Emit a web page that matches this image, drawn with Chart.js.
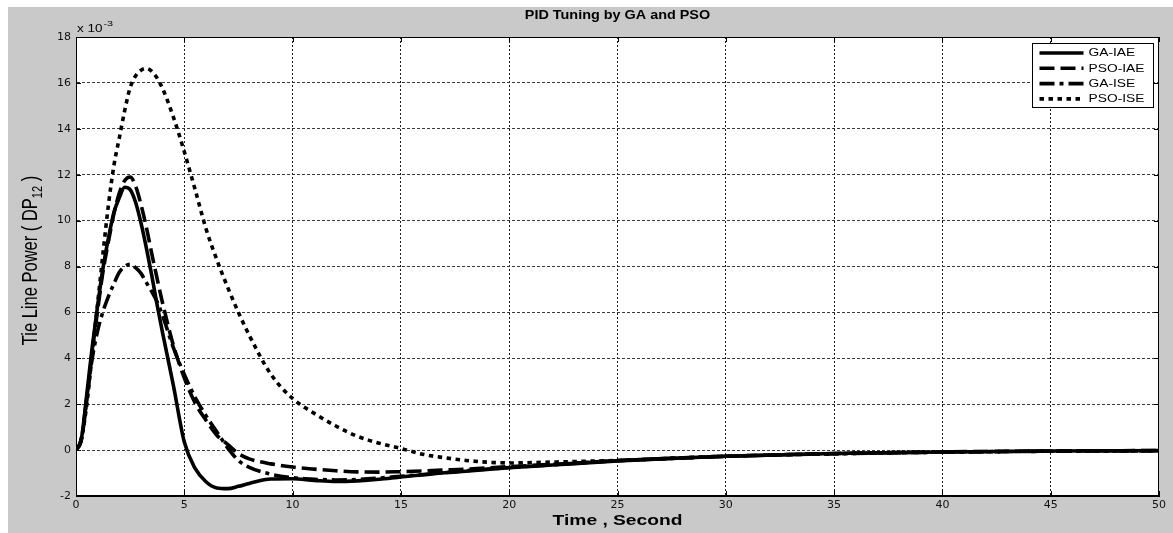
<!DOCTYPE html>
<html>
<head>
<meta charset="utf-8">
<script src="https://cdn.jsdelivr.net/npm/chart.js@4.4.1/dist/chart.umd.min.js"></script>
<style>
  html, body { margin: 0; padding: 0; background: #ffffff; }
  #wrap { position: absolute; left: 0; top: 0; width: 1173px; height: 533px; }
</style>
</head>
<body>
<div id="wrap"><canvas id="c" width="1173" height="533"></canvas></div>
<script>
// Simulation time (s)
const time = [0, 0.25, 0.5, 0.75, 1, 1.25, 1.5, 1.75, 2, 2.25, 2.5, 2.75, 3, 3.25, 3.5, 3.75, 4,
  4.5, 5, 5.5, 6, 6.5, 7, 7.5, 8,
  9, 10, 11, 12, 13, 14, 15, 16, 17, 18,
  20, 22, 25, 28, 30, 35, 40, 45, 50];

// Tie-line power deviation, in units of 1e-3
const gaIAE = [0, 0.5, 2.45, 4.5, 6.3, 7.95, 9.25, 10.35, 11.0, 11.45, 11.35, 10.8, 9.9, 8.8, 7.6, 6.3, 5.1,
  2.8, 0.35, -0.8, -1.38, -1.65, -1.68, -1.58, -1.45,
  -1.26, -1.25, -1.32, -1.37, -1.34, -1.27, -1.17, -1.08, -0.99, -0.92,
  -0.77, -0.65, -0.47, -0.34, -0.27, -0.15, -0.08, -0.04, -0.02];
const psoIAE = [0, 0.45, 2.2, 4.3, 6.1, 7.8, 9.1, 10.3, 11.2, 11.75, 11.9, 11.5, 10.7, 9.7, 8.55, 7.45, 6.4,
  4.55, 3.15, 2.05, 1.3, 0.65, 0.25, -0.15, -0.38,
  -0.6, -0.74, -0.83, -0.9, -0.95, -0.96, -0.94, -0.91, -0.87, -0.83,
  -0.72, -0.62, -0.46, -0.34, -0.27, -0.15, -0.08, -0.04, -0.02];
const gaISE = [0, 0.5, 2.3, 4.0, 5.2, 6.05, 6.7, 7.25, 7.75, 8.0, 8.1, 7.95, 7.7, 7.3, 6.9, 6.45, 5.85,
  4.45, 3.3, 2.3, 1.5, 0.8, 0.1, -0.45, -0.75,
  -1.05, -1.2, -1.27, -1.3, -1.28, -1.22, -1.14, -1.06, -0.98, -0.9,
  -0.76, -0.64, -0.46, -0.34, -0.27, -0.16, -0.09, -0.05, -0.03];
const psoISE = [0, 0.5, 2.0, 4.2, 6.4, 8.6, 10.7, 12.4, 13.6, 14.8, 15.8, 16.3, 16.55, 16.63, 16.5, 16.2, 15.75,
  14.5, 13.0, 11.35, 9.65, 8.3, 7.1, 6.0, 5.0,
  3.3, 2.25, 1.6, 1.05, 0.6, 0.3, 0.07, -0.18, -0.33, -0.45,
  -0.56, -0.52, -0.45, -0.34, -0.27, -0.16, -0.09, -0.05, -0.03];

const seriesNames = ['GA-IAE', 'PSO-IAE', 'GA-ISE', 'PSO-ISE'];
const xTicks = [0, 5, 10, 15, 20, 25, 30, 35, 40, 45, 50];
const yTicks = [-2, 0, 2, 4, 6, 8, 10, 12, 14, 16, 18];

const chartTitle = 'PID Tuning by GA and PSO';
const xTitle = 'Time , Second';
const yTitleMain = 'Tie Line Power ( DP';
const yTitleSub = '12';
const yTitleEnd = ' )';
const exponentBase = 'x 10';
const exponentPower = '-3';

const TEXT_FONT = '"Liberation Sans", Arial, Helvetica, sans-serif';
const TICK_FONT = '"DejaVu Sans", sans-serif';

const toPoints = ys => time.map((t, i) => ({ x: t, y: ys[i] }));

const lineStyles = [
  { dash: [] },
  { dash: [15, 6] },
  { dash: [15, 5, 4, 5] },
  { dash: [4.5, 4.5] }
];
const seriesValues = [gaIAE, psoIAE, gaISE, psoISE];

const datasets = seriesNames.map((name, i) => ({
  label: name,
  data: toPoints(seriesValues[i]),
  borderColor: '#000000',
  borderWidth: 3.6,
  borderDash: lineStyles[i].dash,
  borderCapStyle: 'butt',
  borderJoinStyle: 'round',
  pointRadius: 0,
  fill: false,
  cubicInterpolationMode: 'monotone'
}));

// Horizontally widened text (the figure's lettering is wide)
function wideText(ctx, str, x, y, font, sx, align) {
  ctx.save();
  ctx.font = font;
  ctx.textBaseline = 'middle';
  ctx.textAlign = 'left';
  const w = ctx.measureText(str).width * sx;
  let left = x;
  if (align === 'center') left = x - w / 2;
  else if (align === 'right') left = x - w;
  ctx.translate(left, y);
  ctx.scale(sx, 1);
  ctx.fillText(str, 0, 0);
  ctx.restore();
  return w;
}

const figurePlugin = {
  id: 'figure',
  beforeDraw(chart) {
    const { ctx, chartArea: a } = chart;
    ctx.save();
    ctx.fillStyle = '#ffffff';
    ctx.fillRect(0, 0, chart.width, chart.height);
    ctx.fillStyle = '#c9c9c9';
    ctx.fillRect(8, 7, chart.width - 8, chart.height - 7);
    ctx.fillStyle = '#ffffff';
    ctx.fillRect(a.left, a.top, a.right - a.left, a.bottom - a.top);
    ctx.restore();
  },
  afterDatasetsDraw(chart) {
    const { ctx, chartArea: a, scales } = chart;
    ctx.save();
    // axes box
    ctx.strokeStyle = '#000000';
    ctx.lineWidth = 1;
    ctx.strokeRect(Math.round(a.left) + 0.5, Math.round(a.top) + 0.5,
      Math.round(a.right - a.left) - 1, Math.round(a.bottom - a.top) - 1);
    // inward tick marks on all four sides
    ctx.beginPath();
    xTicks.forEach(v => {
      const px = Math.round(scales.x.getPixelForValue(v)) + 0.5;
      ctx.moveTo(px, a.bottom); ctx.lineTo(px, a.bottom - 5);
      ctx.moveTo(px, a.top); ctx.lineTo(px, a.top + 5);
    });
    yTicks.forEach(v => {
      const py = Math.round(scales.y.getPixelForValue(v)) + 0.5;
      ctx.moveTo(a.left, py); ctx.lineTo(a.left + 5, py);
      ctx.moveTo(a.right, py); ctx.lineTo(a.right - 5, py);
    });
    ctx.stroke();

    // legend
    const bw = 121, bh = 64;
    const bx = Math.round(a.right - 6 - bw) + 0.5;
    const by = Math.round(a.top + 6) + 0.5;
    ctx.fillStyle = '#ffffff';
    ctx.fillRect(bx, by, bw, bh);
    ctx.strokeStyle = '#000000';
    ctx.lineWidth = 1;
    ctx.strokeRect(bx, by, bw, bh);
    chart.data.datasets.forEach((ds, i) => {
      const ry = by + 9.5 + i * 15.3;
      ctx.save();
      ctx.strokeStyle = ds.borderColor;
      ctx.lineWidth = ds.borderWidth;
      ctx.lineCap = 'butt';
      ctx.setLineDash(ds.borderDash || []);
      ctx.beginPath();
      ctx.moveTo(bx + 7, ry);
      ctx.lineTo(bx + 51, ry);
      ctx.stroke();
      ctx.restore();
      ctx.fillStyle = '#000000';
      wideText(ctx, ds.label, bx + 56, ry + 0.5, '10px ' + TEXT_FONT, 1.38, 'left');
    });
    ctx.restore();
  },
  afterDraw(chart) {
    const { ctx, chartArea: a } = chart;
    ctx.save();
    ctx.fillStyle = '#000000';
    const cx = (a.left + a.right) / 2;
    // title
    wideText(ctx, chartTitle, cx, 16, 'bold 12px ' + TEXT_FONT, 1.2, 'center');
    // x-axis title
    wideText(ctx, xTitle, cx, 521, 'bold 15px ' + TEXT_FONT, 1.28, 'center');
    // exponent label
    const w1 = wideText(ctx, exponentBase, a.left + 1, a.top - 8, '10px ' + TEXT_FONT, 1.35, 'left');
    wideText(ctx, exponentPower, a.left + 1 + w1 + 1, a.top - 13, '8px ' + TEXT_FONT, 1.35, 'left');
    // y-axis title with subscript, rotated
    const yc = (a.top + a.bottom) / 2 - 6;
    ctx.translate(31, yc);
    ctx.scale(1.3, 1);
    ctx.rotate(-Math.PI / 2);
    ctx.textBaseline = 'middle';
    ctx.textAlign = 'left';
    const mainFont = '16.5px ' + TEXT_FONT;
    const subFont = '11px ' + TEXT_FONT;
    ctx.font = mainFont;
    const wm = ctx.measureText(yTitleMain).width;
    const we = ctx.measureText(yTitleEnd).width;
    ctx.font = subFont;
    const ws = ctx.measureText(yTitleSub).width;
    let x0 = -(wm + ws + we) / 2;
    ctx.font = mainFont;
    ctx.fillText(yTitleMain, x0, 0);
    ctx.font = subFont;
    ctx.fillText(yTitleSub, x0 + wm, 5.5);
    ctx.font = mainFont;
    ctx.fillText(yTitleEnd, x0 + wm + ws, 0);
    ctx.restore();
  }
};

const edgeAware = (edges, color) => ctx =>
  (ctx.tick && edges.includes(ctx.tick.value)) ? 'rgba(0,0,0,0)' : color;

new Chart(document.getElementById('c'), {
  type: 'line',
  data: { datasets },
  plugins: [figurePlugin],
  options: {
    responsive: false,
    animation: false,
    events: [],
    layout: { padding: { left: 0, top: 37, right: 14, bottom: 0 } },
    plugins: {
      legend: { display: false },
      title: { display: false },
      tooltip: { enabled: false }
    },
    scales: {
      x: {
        type: 'linear',
        min: 0,
        max: 50,
        afterBuildTicks: s => { s.ticks = xTicks.map(v => ({ value: v })); },
        afterFit: s => { s.height = 37; },
        ticks: {
          autoSkip: false,
          maxRotation: 0,
          padding: 3,
          color: '#111111',
          font: { family: TICK_FONT, size: 11 },
          callback: v => String(v)
        },
        grid: {
          drawTicks: false,
          color: edgeAware([0, 50], '#1a1a1a'),
          lineWidth: 1
        },
        border: { display: true, color: '#000000', width: 1, dash: [2, 2] }
      },
      y: {
        type: 'linear',
        min: -2,
        max: 18,
        afterBuildTicks: s => { s.ticks = yTicks.map(v => ({ value: v })); },
        afterFit: s => { s.width = 76; },
        ticks: {
          autoSkip: false,
          padding: 5,
          color: '#111111',
          font: { family: TICK_FONT, size: 11 },
          callback: v => String(v)
        },
        grid: {
          drawTicks: false,
          color: edgeAware([-2, 18], '#3a3a3a'),
          lineWidth: 1
        },
        border: { display: true, color: '#000000', width: 1, dash: [3, 2] }
      }
    }
  }
});
</script>
</body>
</html>
